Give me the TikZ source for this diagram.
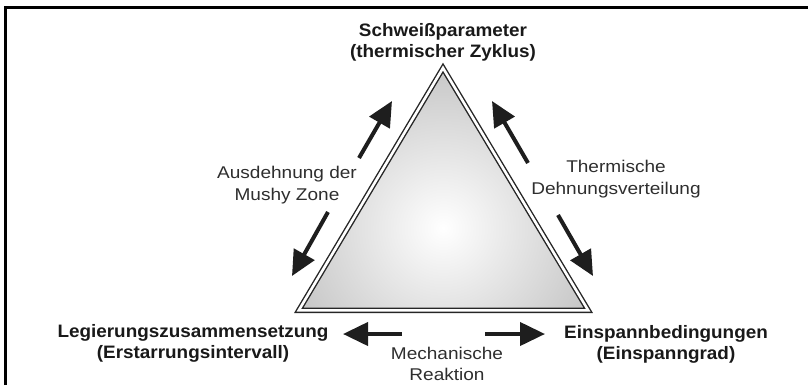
\documentclass[tikz,border=0pt]{standalone}
\usepackage{fontspec}
\newfontfamily\labfont[FakeStretch=1.12]{Liberation Sans}
\newfontfamily\boldlabfont[FakeStretch=1.05]{Liberation Sans}
\usetikzlibrary{arrows.meta}
\definecolor{arrowcol}{HTML}{1E1E1E}
\definecolor{textgray}{HTML}{2E2E2E}
\begin{document}
\begin{tikzpicture}[x=1bp,y=-1bp,
  boldlabel/.style={font=\boldlabfont\bfseries\fontsize{18bp}{21bp}\selectfont, text=black!90, align=center, inner sep=0pt},
  plainlabel/.style={font=\labfont\fontsize{17bp}{21.5bp}\selectfont, text=textgray, align=center, inner sep=0pt},
  bigarrow/.style={draw=arrowcol, line width=4bp, -{Triangle[length=25bp,width=23bp]}, arrowcol},
  tri/.style={draw=black!85, line width=1.4bp, double=white, double distance=2.6bp, line join=miter}
]
\useasboundingbox (0,0) rectangle (808,385);
% frame
\draw[line width=3bp, black] (5.5,385) -- (5.5,7.5) -- (808,7.5);

% triangle corners (centre line of the double stroke)
\coordinate (apex) at (443,68);
\coordinate (bl) at (298.8,310.3);
\coordinate (br) at (588.2,310.3);

\begin{scope}
  \clip (apex) -- (bl) -- (br) -- cycle;
  \shade[inner color=white, outer color=black!48] (443,228) circle (350);
\end{scope}
\draw[tri] (apex) -- (bl) -- (br) -- cycle;

% labels
\node[boldlabel] (top) at (443,42) {Schweißparameter\\(thermischer Zyklus)};
\node[boldlabel] (left) at (193,343.5) {Legierungszusammensetzung\\(Erstarrungsintervall)};
\node[boldlabel] (right) at (666,344) {Einspannbedingungen\\(Einspanngrad)};
\node[plainlabel] (mushy) at (287,185) {Ausdehnung der\\Mushy Zone};
\node[plainlabel] (therm) at (616,179) {Thermische\\Dehnungsverteilung};
\node[plainlabel] (mech) at (447,364) {Mechanische\\Reaktion};

% arrows
\coordinate (lu0) at (359,158); \coordinate (lu1) at (392,101);
\coordinate (ll0) at (328,212); \coordinate (ll1) at (292,276);
\coordinate (ru0) at (528,163); \coordinate (ru1) at (492,101);
\coordinate (rl0) at (558,215); \coordinate (rl1) at (593,276);
\coordinate (bl0) at (402,334); \coordinate (bl1) at (343,334);
\coordinate (br0) at (485,334); \coordinate (br1) at (545,334);
\draw[bigarrow] (lu0) -- (lu1);
\draw[bigarrow] (ll0) -- (ll1);
\draw[bigarrow] (ru0) -- (ru1);
\draw[bigarrow] (rl0) -- (rl1);
\draw[bigarrow] (bl0) -- (bl1);
\draw[bigarrow] (br0) -- (br1);
\end{tikzpicture}
\end{document}
